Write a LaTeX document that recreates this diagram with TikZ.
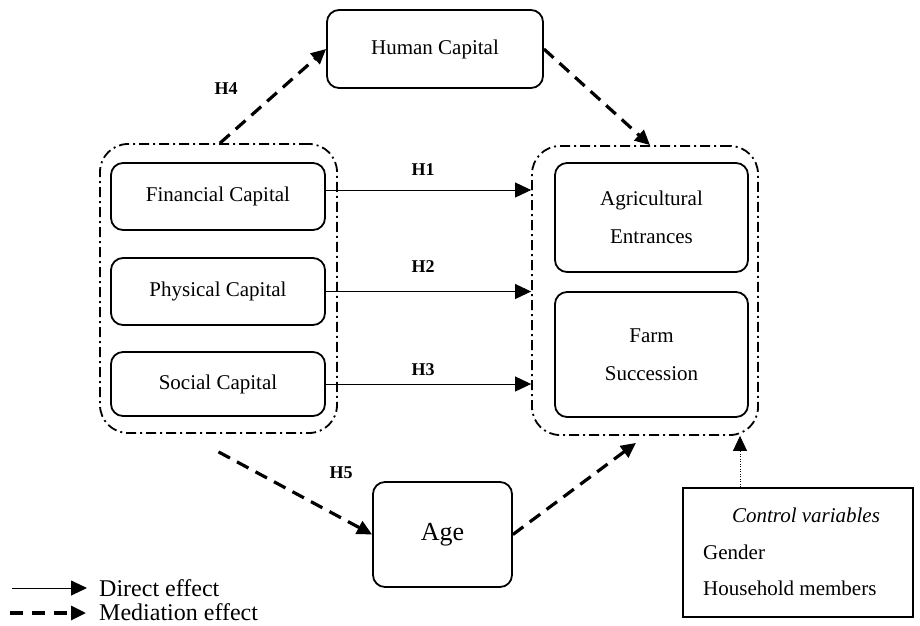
\documentclass[tikz,border=0pt]{standalone}
\usepackage{fontspec}
\setmainfont{Liberation Serif}
\usetikzlibrary{arrows.meta}
\begin{document}
\begin{tikzpicture}[x=1pt,y=-1pt,
 box/.style={draw, line width=1.8pt, rounded corners=12pt, inner sep=0pt, align=center, font=\fontsize{21}{38}\selectfont},
 grp/.style={draw, line width=1.8pt, rounded corners=28pt, dash pattern=on 10pt off 4pt on 2pt off 4pt, inner sep=0pt},
 direct/.style={line width=0.9pt, -{Triangle[length=16pt,width=15pt]}},
 medi/.style={line width=3.2pt, dash pattern=on 13pt off 8pt, -{Triangle[length=15pt,width=14pt]}},
 hlab/.style={font=\fontsize{18}{20}\selectfont\bfseries},
 txt/.style={font=\fontsize{21}{24}\selectfont, inner sep=0pt},
 legtxt/.style={font=\fontsize{24}{26}\selectfont, inner sep=0pt, anchor=west},
]
\useasboundingbox (0,0) rectangle (920,625);

% groups
\node[grp, minimum width=237pt, minimum height=289pt] (lgroup) at (218.5,288.5) {};
\node[grp, minimum width=226pt, minimum height=289pt] (rgroup) at (645,290.5) {};

% boxes
\node[box, minimum width=216pt, minimum height=78pt] (human) at (435,49) {Human Capital};
\node[box, minimum width=214pt, minimum height=67pt] (fin) at (218,196.5) {Financial Capital};
\node[box, minimum width=214pt, minimum height=67pt] (phys) at (218,291.5) {Physical Capital};
\node[box, minimum width=214pt, minimum height=64pt] (soc) at (218,384) {Social Capital};
\node[box, minimum width=193pt, minimum height=109pt] (agri) at (651.5,217.5) {Agricultural\\Entrances};
\node[box, minimum width=193pt, minimum height=125pt] (farm) at (651.5,354.5) {Farm\\Succession};
\node[box, minimum width=139pt, minimum height=105pt, font=\fontsize{26}{28}\selectfont] (age) at (442.5,534.5) {Age};

% control box
\node[draw, line width=1.8pt, minimum width=230pt, minimum height=129pt, inner sep=0pt] (ctrl) at (798,552.5) {};
\node[txt, font=\fontsize{21}{24}\selectfont\itshape] (ctitle) at (806,515) {Control variables};
\node[txt, anchor=west] (cgen) at (703,552) {Gender};
\node[txt, anchor=west] (chh) at (703,588) {Household members};

% direct effects
\draw[direct] ([yshift=6.5pt]fin.east) -- ([yshift=6.5pt]fin.east -| rgroup.west);
\draw[direct] (phys.east) -- (phys.east -| rgroup.west);
\draw[direct] (soc.east) -- (soc.east -| rgroup.west);
\node[hlab] (h1) at (423,170) {H1};
\node[hlab] (h2) at (423,267) {H2};
\node[hlab] (h3) at (423,370) {H3};

% mediation
\draw[medi] ([xshift=1.5pt]lgroup.north) -- (human.west);
\draw[medi] (human.east) -- ([xshift=5pt]rgroup.north);
\node[hlab] (h4) at (226,89) {H4};
\draw[medi] ([yshift=-18pt]lgroup.south) -- (age.west);
\draw[medi] (age.east) -- ([xshift=-9pt,yshift=-7pt]rgroup.south);
\node[hlab] (h5) at (341,473) {H5};

% control arrow
\draw[line width=0.8pt, dash pattern=on 1pt off 1.5pt, -{Triangle[length=15pt,width=14pt]}] ([xshift=-58pt]ctrl.north) -- ([xshift=-58pt]ctrl.north |- rgroup.south);

% legend
\coordinate (d1) at (12,588);
\coordinate (d2) at (87,588);
\coordinate (m1) at (10,613);
\coordinate (m2) at (86,613);
\draw[direct] (d1) -- (d2);
\draw[line width=3.2pt, dash pattern=on 13pt off 9pt, -{Triangle[length=15pt,width=14pt]}] (m1) -- (m2);
\node[legtxt] (dlab) at (99,588) {Direct effect};
\node[legtxt] (mlab) at (99,612) {Mediation effect};
\end{tikzpicture}
\end{document}
